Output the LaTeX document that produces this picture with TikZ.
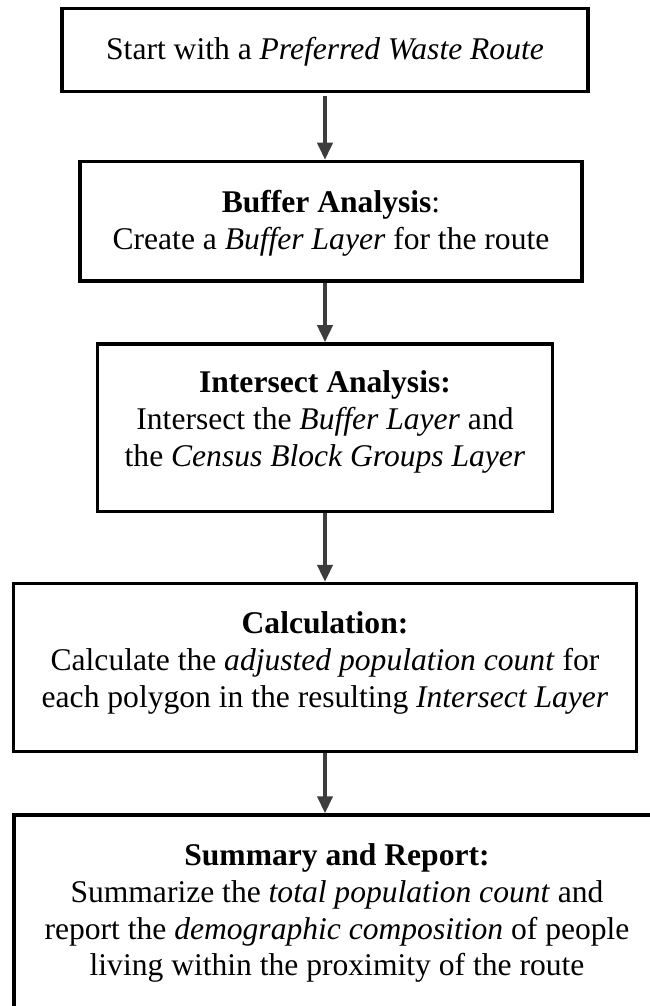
\documentclass[tikz,border=0pt]{standalone}
\usepackage{fontspec}
\setmainfont{Liberation Serif}
\usepackage{tikz}
\usetikzlibrary{arrows.meta}
\definecolor{arrowGray}{HTML}{3D3D3D}

\begin{document}
\begin{tikzpicture}[x=0.38pt,y=-0.38pt]
		\useasboundingbox (0,0) rectangle (650,1006);
		\clip (0,0) rectangle (650,1006);
		\begin{scope}
			[
				styleBox/.style={draw, line width=1.25pt, inner sep=0pt},
				styleText/.style={anchor=north, align=center, inner sep=0pt,
					font=\fontsize{12}{14}\selectfont},
			]
			\node(start)[styleBox, minimum width=199.9pt, minimum height=31.5pt] at (325,49.7) {};
			\node(buffer)[styleBox, minimum width=190.8pt, minimum height=45.4pt] at (331,221.2) {};
			\node(intersect)[styleBox, minimum width=173.1pt, minimum height=63.7pt] at (325,427.7) {};
			\node(calc)[styleBox, minimum width=236.7pt, minimum height=63.8pt] at (325,667.5) {};
			\node(report)[styleBox, minimum width=245.5pt, minimum height=76pt] at (337,915) {};

			\node(startText)[styleText] at (325,37) {Start with a \textit{Preferred Waste Route}};
			\node(bufferText)[styleText] at (331,190) {\textbf{Buffer Analysis}:\\Create a \textit{Buffer Layer} for the route};
			\node(intersectText)[styleText] at (325,370) {\textbf{Intersect Analysis:}\\Intersect the \textit{Buffer Layer} and\\the \textit{Census Block Groups Layer}};
			\node(calcText)[styleText] at (325,611) {\textbf{Calculation:}\\Calculate the \textit{adjusted population count} for\\each polygon in the resulting \textit{Intersect Layer}};
			\node(reportText)[styleText] at (337,843) {\textbf{Summary and Report:}\\Summarize the \textit{total population count} and\\report the \textit{demographic composition} of people\\living within the proximity of the route};
		\end{scope}

		\begin{scope}
			[ styleArrow/.style = {draw=arrowGray, line width=1.5pt,
				-{Triangle[width=5.7pt,length=6.5pt]}}]
			\path
			(start.south) edge[styleArrow, shorten <=1.3pt]	(start.south |- buffer.north)
			(intersect.north |- buffer.south) edge[styleArrow]	(intersect.north)
			(intersect) edge[styleArrow]			(calc)
			(calc.south) edge[styleArrow]			(calc.south |- report.north);
		\end{scope}
	\end{tikzpicture}
\end{document}
